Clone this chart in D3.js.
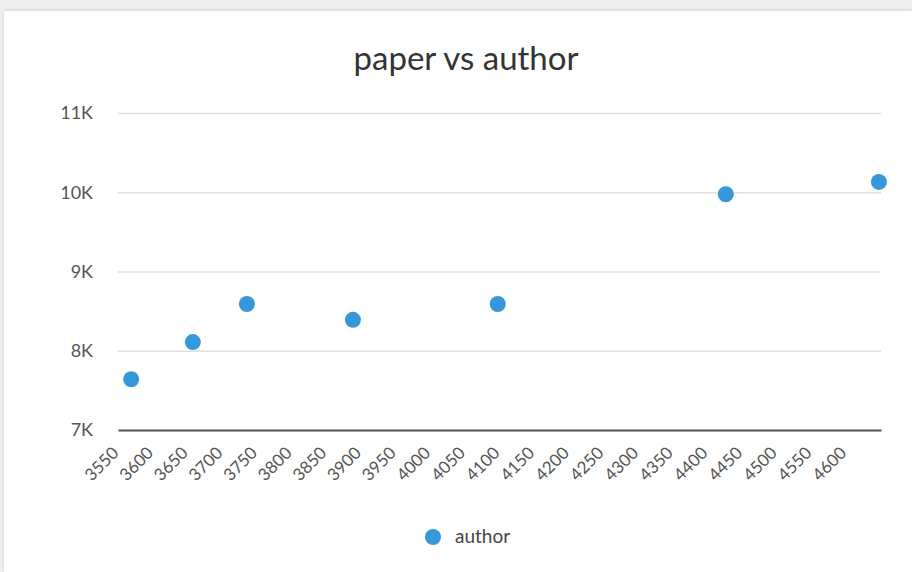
<!DOCTYPE html>
<html>
<head>
<meta charset="utf-8">
<script src="https://cdn.jsdelivr.net/npm/d3@7/dist/d3.min.js"></script>
<style>
  html, body { margin: 0; padding: 0; background: #efefef; }
  body { width: 912px; height: 572px; overflow: hidden; position: relative; }
  #card { position: absolute; left: 4px; top: 11px; width: 908px; height: 561px; background: #fff;
          box-shadow: 0 -2px 2px rgba(0,0,0,0.06), -1px 0 2px rgba(0,0,0,0.06); }
  svg { position: absolute; left: 0; top: 0; }
  text { font-family: Lato, "Open Sans", sans-serif; }
</style>
</head>
<body>
<div id="card"></div>
<svg id="chart" width="912" height="572"></svg>
<script>
// paper counts (x) against author counts (y)
const papers  = [3566, 3655, 3733, 3886, 4095, 4424, 4645];
const authors = [7640, 8110, 8590, 8390, 8590, 9975, 10130];
const xTicks = d3.range(3550, 4601, 50);
const yTicks = [7000, 8000, 9000, 10000, 11000];
const seriesName = "author";
const chartTitle = "paper vs author";

const svg = d3.select("#chart");
const color = "#3598db";

const x = d3.scaleLinear().domain([3547, 4648]).range([118, 881]);
const y = d3.scaleLinear().domain([7000, 11000]).range([430, 113]);

// title
svg.append("text")
  .attr("x", 466).attr("y", 70)
  .attr("text-anchor", "middle")
  .attr("font-size", 33)
  .attr("fill", "#333")
  .text(chartTitle);

// y axis with gridlines
const yAxis = svg.append("g")
  .attr("transform", "translate(118,0)")
  .call(d3.axisLeft(y).tickValues(yTicks).tickSize(-763).tickPadding(25)
    .tickFormat(d => (d / 1000) + "K"));
yAxis.select(".domain").remove();
yAxis.selectAll(".tick line").attr("stroke", "#e0e0e0").attr("stroke-width", 1.5);
yAxis.selectAll(".tick text").attr("font-size", 18).attr("fill", "#555")
  .attr("font-family", "Lato, sans-serif");

// x axis
const xAxis = svg.append("g")
  .attr("transform", "translate(0,430)")
  .call(d3.axisBottom(x).tickValues(xTicks).tickSize(0).tickFormat(d3.format("d")));
xAxis.select(".domain").attr("stroke", "#555").attr("stroke-width", 2);
xAxis.selectAll(".tick text")
  .attr("font-size", 17).attr("fill", "#555")
  .attr("font-family", "Lato, sans-serif")
  .attr("text-anchor", "end")
  .attr("dy", 0)
  .attr("transform", "translate(-3,22) rotate(-45)");

// points
svg.append("g").selectAll("circle")
  .data(papers.map((p, i) => [p, authors[i]]))
  .join("circle")
  .attr("cx", d => x(d[0]))
  .attr("cy", d => y(d[1]))
  .attr("r", 8)
  .attr("fill", color);

// legend
const legend = svg.append("g").attr("transform", "translate(433,537)");
legend.append("circle").attr("r", 8).attr("fill", color);
legend.append("text").attr("x", 22).attr("y", 6)
  .attr("font-size", 19).attr("fill", "#444").text(seriesName);
</script>
</body>
</html>
